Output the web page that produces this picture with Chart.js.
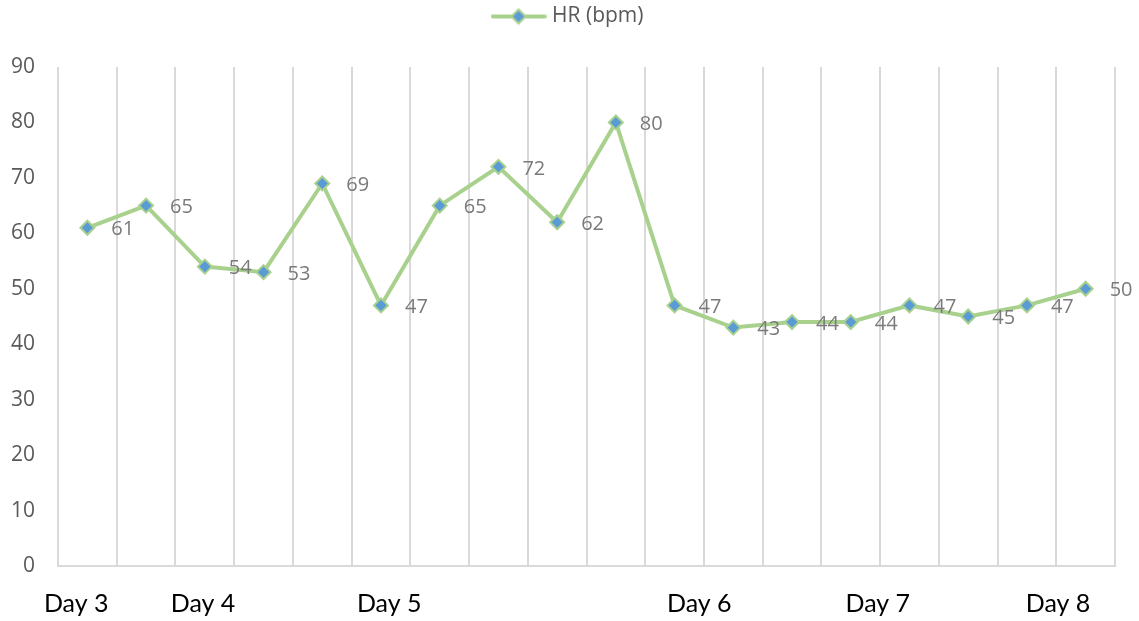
<!DOCTYPE html>
<html>
<head>
<meta charset="utf-8">
<script src="https://cdn.jsdelivr.net/npm/chart.js@4/dist/chart.umd.min.js"></script>
<style>
  html, body { margin: 0; padding: 0; background: #ffffff; }
  #wrap { width: 1139px; height: 621px; position: relative; }
</style>
</head>
<body>
<div id="wrap"><canvas id="hr"></canvas></div>
<script>
// Heart-rate readings, one per measurement
const readings = ['r1','r2','r3','r4','r5','r6','r7','r8','r9','r10','r11','r12','r13','r14','r15','r16','r17','r18'];
const hrValues = [61, 65, 54, 53, 69, 47, 65, 72, 62, 80, 47, 43, 44, 44, 47, 45, 47, 50];

// Day captions under the axis and where they sit along the readings (reading index units)
const dayLabels = ['Day 3', 'Day 4', 'Day 5', 'Day 6', 'Day 7', 'Day 8'];
const dayTickPositions = [-0.19, 1.97, 5.14, 10.42, 13.46, 16.53];

const yTicks = [0, 10, 20, 30, 40, 50, 60, 70, 80, 90];

const LINE_GREEN = '#A9D18E';
const MARKER_BLUE = '#5B9BD5';
const GRID_GREY = '#D9D9D9';
const TEXT_GREY = '#595959';
const LABEL_GREY = '#7A7A7A';

// Legend swatch: line segment with a diamond marker
function legendSwatch() {
  const c = document.createElement('canvas');
  c.width = 56; c.height = 18;
  const g = c.getContext('2d');
  g.strokeStyle = LINE_GREEN;
  g.lineWidth = 4;
  g.lineCap = 'round';
  g.beginPath(); g.moveTo(2, 9); g.lineTo(54, 9); g.stroke();
  g.beginPath();
  g.moveTo(28, 2); g.lineTo(35, 9); g.lineTo(28, 16); g.lineTo(21, 9); g.closePath();
  g.fillStyle = MARKER_BLUE; g.fill();
  g.lineWidth = 2; g.strokeStyle = LINE_GREEN; g.stroke();
  return c;
}

// Value captions to the right of each marker
const valueLabels = {
  id: 'valueLabels',
  afterDatasetsDraw(chart) {
    const ctx = chart.ctx;
    const meta = chart.getDatasetMeta(0);
    ctx.save();
    ctx.font = '20px "Open Sans"';
    ctx.fillStyle = LABEL_GREY;
    ctx.textAlign = 'left';
    ctx.textBaseline = 'middle';
    meta.data.forEach((pt, i) => {
      ctx.fillText(String(hrValues[i]), pt.x + 24, pt.y + 2);
    });
    ctx.restore();
  }
};

// Reserve room between the legend and the plot
const legendSpace = {
  id: 'legendSpace',
  beforeInit(chart) {
    const fit = chart.legend.fit;
    chart.legend.fit = function () {
      fit.call(this);
      this.height = 67;
    };
  }
};

new Chart(document.getElementById('hr'), {
  type: 'line',
  data: {
    labels: readings,
    datasets: [{
      label: 'HR (bpm)',
      data: hrValues,
      borderColor: LINE_GREEN,
      backgroundColor: MARKER_BLUE,
      borderWidth: 4,
      tension: 0,
      pointStyle: 'rectRot',
      pointRadius: 7,
      pointHoverRadius: 7,
      pointBackgroundColor: MARKER_BLUE,
      pointBorderColor: LINE_GREEN,
      pointBorderWidth: 2
    }]
  },
  options: {
    responsive: true,
    maintainAspectRatio: false,
    animation: false,
    layout: { padding: 0 },
    plugins: {
      tooltip: { enabled: false },
      legend: {
        position: 'top',
        labels: {
          usePointStyle: true,
          pointStyleWidth: 46,
          boxHeight: 18,
          padding: 6,
          color: TEXT_GREY,
          font: { family: 'Open Sans', size: 21 },
          generateLabels(chart) {
            return [{
              text: chart.data.datasets[0].label,
              pointStyle: legendSwatch(),
              fontColor: TEXT_GREY,
              lineWidth: 0,
              datasetIndex: 0
            }];
          }
        }
      }
    },
    scales: {
      x: {
        type: 'category',
        offset: true,
        grid: { display: true, offset: true, color: GRID_GREY, lineWidth: 2, drawTicks: false },
        border: { display: true, color: GRID_GREY, width: 2 },
        ticks: { display: false }
      },
      days: {
        type: 'linear',
        position: 'bottom',
        min: -0.5,
        max: hrValues.length - 0.5,
        afterBuildTicks(axis) {
          axis.ticks = dayTickPositions.map(v => ({ value: v }));
        },
        afterFit(axis) { axis.height = 55; },
        grid: { display: false, drawTicks: false },
        border: { display: false },
        ticks: {
          autoSkip: false,
          maxRotation: 0,
          padding: 23,
          color: '#000000',
          font: { family: 'Lato', size: 25 },
          callback: (v, i) => dayLabels[i]
        }
      },
      y: {
        min: 0,
        max: 90,
        afterBuildTicks(axis) {
          axis.ticks = yTicks.map(v => ({ value: v }));
        },
        afterFit(axis) { axis.width = 58; },
        grid: { display: false, drawTicks: false },
        border: { display: false },
        ticks: {
          padding: 23,
          color: TEXT_GREY,
          font: { family: 'Open Sans', size: 21 }
        }
      },
      // empty margin strip on the right of the plot
      rightMargin: {
        type: 'linear',
        position: 'right',
        afterFit(axis) { axis.width = 24; },
        grid: { display: false, drawTicks: false },
        border: { display: false },
        ticks: { display: false }
      }
    }
  },
  plugins: [valueLabels, legendSpace]
});
</script>
</body>
</html>
